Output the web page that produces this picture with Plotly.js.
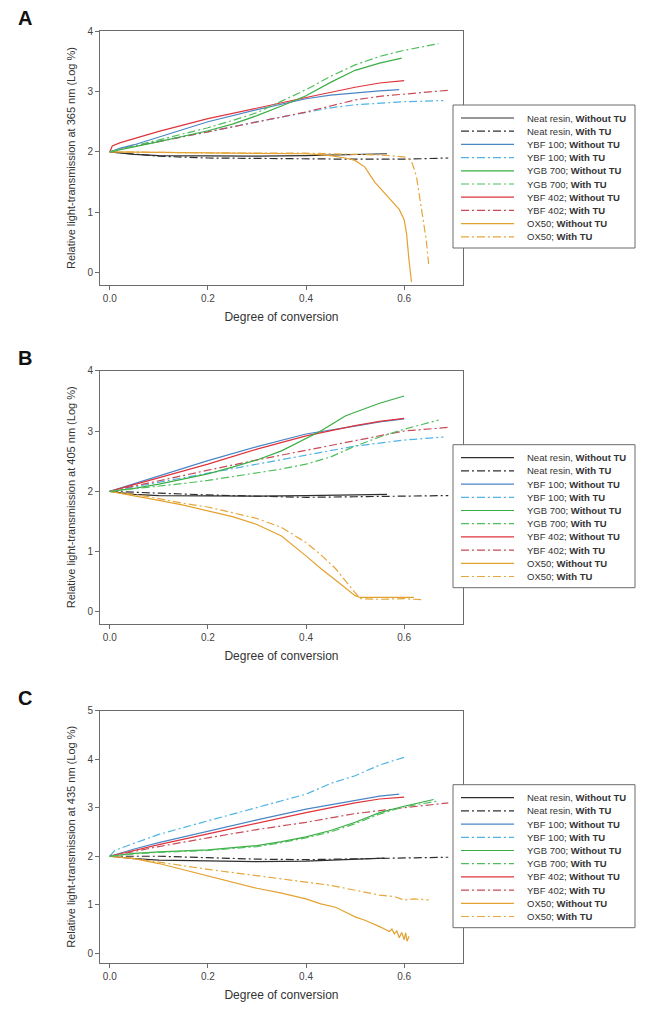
<!DOCTYPE html>
<html>
<head>
<meta charset="utf-8">
<script src="https://cdn.plot.ly/plotly-3.0.1.min.js"></script>
<style>html,body{margin:0;padding:0;background:#fff;}#chart{width:649px;height:1016px;}</style>
</head>
<body>
<div id="chart"></div>
<script>
// ---------- Series labels ----------
const seriesNames = [
  'Neat resin, <b>Without TU</b>', 'Neat resin, <b>With TU</b>',
  'YBF 100; <b>Without TU</b>', 'YBF 100; <b>With TU</b>',
  'YGB 700; <b>Without TU</b>', 'YGB 700; <b>With TU</b>',
  'YBF 402; <b>Without TU</b>', 'YBF 402; <b>With TU</b>',
  'OX50; <b>Without TU</b>', 'OX50; <b>With TU</b>'
];
const panelLabels = ['A', 'B', 'C'];
const yTitles = [
  'Relative light-transmission at 365 nm (Log %)',
  'Relative light-transmission at 405 nm (Log %)',
  'Relative light-transmission at 435 nm (Log %)'
];
const xTitle = 'Degree of conversion';

// ---------- Panel A (365 nm) ----------
const A_neatWo_x = [0,0.05,0.1,0.2,0.3,0.4,0.5,0.565];
const A_neatWo_y = [2,1.96,1.94,1.93,1.93,1.94,1.96,1.97];
const A_neatW_x  = [0,0.05,0.1,0.2,0.3,0.4,0.5,0.6,0.69];
const A_neatW_y  = [2,1.96,1.93,1.9,1.89,1.88,1.88,1.88,1.9];
const A_ybf100Wo_x = [0,0.02,0.05,0.1,0.2,0.3,0.4,0.45,0.5,0.55,0.59];
const A_ybf100Wo_y = [2,2.06,2.12,2.25,2.5,2.7,2.88,2.94,2.98,3.01,3.03];
const A_ybf100W_x  = [0,0.05,0.1,0.2,0.3,0.4,0.45,0.5,0.55,0.6,0.68];
const A_ybf100W_y  = [2,2.1,2.18,2.33,2.5,2.66,2.73,2.78,2.81,2.83,2.85];
const A_ygb700Wo_x = [0,0.05,0.1,0.15,0.2,0.25,0.3,0.35,0.4,0.45,0.5,0.55,0.595];
const A_ygb700Wo_y = [2,2.08,2.17,2.26,2.35,2.46,2.6,2.76,2.93,3.15,3.35,3.47,3.55];
const A_ygb700W_x  = [0,0.05,0.1,0.15,0.2,0.25,0.3,0.35,0.4,0.45,0.5,0.55,0.6,0.67];
const A_ygb700W_y  = [2,2.1,2.2,2.3,2.4,2.52,2.65,2.84,3.03,3.25,3.44,3.58,3.68,3.79];
const A_ybf402Wo_x = [0,0.005,0.02,0.1,0.2,0.3,0.4,0.5,0.55,0.6];
const A_ybf402Wo_y = [2,2.1,2.15,2.34,2.55,2.73,2.9,3.07,3.14,3.18];
const A_ybf402W_x  = [0,0.05,0.1,0.2,0.3,0.4,0.45,0.5,0.55,0.6,0.69];
const A_ybf402W_y  = [2,2.1,2.17,2.33,2.5,2.66,2.76,2.86,2.92,2.96,3.02];
const A_ox50Wo_x = [0,0.1,0.2,0.3,0.4,0.45,0.48,0.5,0.52,0.54,0.56,0.58,0.59,0.6,0.605,0.61,0.615];
const A_ox50Wo_y = [2,1.99,1.98,1.98,1.97,1.94,1.9,1.86,1.75,1.5,1.32,1.15,1.05,0.88,0.65,0.2,-0.15];
const A_ox50W_x  = [0,0.1,0.2,0.3,0.4,0.5,0.55,0.6,0.615,0.625,0.635,0.645,0.65];
const A_ox50W_y  = [2,1.99,1.99,1.98,1.98,1.96,1.95,1.92,1.85,1.6,1.1,0.55,0.15];

// ---------- Panel B (405 nm) ----------
const B_neatWo_x = [0,0.05,0.1,0.2,0.3,0.4,0.5,0.565];
const B_neatWo_y = [2,1.95,1.93,1.92,1.92,1.93,1.94,1.95];
const B_neatW_x  = [0,0.05,0.1,0.2,0.3,0.4,0.5,0.6,0.69];
const B_neatW_y  = [2,1.99,1.97,1.94,1.92,1.9,1.91,1.92,1.93];
const B_ybf100Wo_x = [0,0.1,0.2,0.3,0.4,0.5,0.55,0.6];
const B_ybf100Wo_y = [2,2.26,2.51,2.74,2.95,3.08,3.15,3.2];
const B_ybf100W_x  = [0,0.1,0.2,0.3,0.4,0.45,0.5,0.55,0.6,0.68];
const B_ybf100W_y  = [2,2.15,2.3,2.46,2.6,2.68,2.75,2.8,2.85,2.9];
const B_ygb700Wo_x = [0,0.05,0.1,0.15,0.2,0.25,0.3,0.35,0.4,0.43,0.46,0.48,0.5,0.55,0.6];
const B_ygb700Wo_y = [2,2.05,2.12,2.2,2.29,2.4,2.52,2.67,2.87,3.0,3.15,3.25,3.31,3.46,3.58];
const B_ygb700W_x  = [0,0.05,0.1,0.15,0.2,0.25,0.3,0.35,0.4,0.45,0.5,0.55,0.6,0.67];
const B_ygb700W_y  = [2,2.04,2.08,2.13,2.18,2.24,2.3,2.37,2.45,2.57,2.75,2.9,3.03,3.18];
const B_ybf402Wo_x = [0,0.1,0.2,0.3,0.4,0.5,0.55,0.6];
const B_ybf402Wo_y = [2,2.22,2.45,2.7,2.92,3.09,3.16,3.21];
const B_ybf402W_x  = [0,0.1,0.2,0.3,0.4,0.5,0.55,0.6,0.69];
const B_ybf402W_y  = [2,2.18,2.35,2.52,2.68,2.84,2.93,3.0,3.06];
const B_ox50Wo_x = [0,0.05,0.1,0.15,0.2,0.25,0.3,0.35,0.4,0.43,0.46,0.48,0.5,0.51,0.55,0.6,0.62];
const B_ox50Wo_y = [2,1.93,1.85,1.77,1.68,1.58,1.45,1.26,0.93,0.72,0.53,0.4,0.27,0.24,0.24,0.24,0.24];
const B_ox50W_x  = [0,0.05,0.1,0.15,0.2,0.25,0.3,0.35,0.4,0.43,0.46,0.48,0.5,0.51,0.55,0.6,0.64];
const B_ox50W_y  = [2,1.95,1.88,1.8,1.74,1.65,1.55,1.4,1.15,0.95,0.72,0.52,0.33,0.22,0.21,0.22,0.2];

// ---------- Panel C (435 nm) ----------
const C_neatWo_x = [0,0.05,0.1,0.2,0.3,0.4,0.5,0.56];
const C_neatWo_y = [2,1.95,1.92,1.9,1.89,1.9,1.94,1.96];
const C_neatW_x  = [0,0.1,0.2,0.3,0.4,0.5,0.6,0.69];
const C_neatW_y  = [2,2.0,1.97,1.94,1.93,1.95,1.96,1.98];
const C_ybf100Wo_x = [0,0.05,0.1,0.2,0.3,0.4,0.5,0.55,0.59];
const C_ybf100Wo_y = [2,2.15,2.28,2.52,2.75,2.97,3.16,3.24,3.28];
const C_ybf100W_x  = [0,0.01,0.05,0.1,0.2,0.3,0.4,0.45,0.5,0.55,0.6];
const C_ybf100W_y  = [2,2.12,2.27,2.45,2.73,3.0,3.28,3.5,3.66,3.88,4.04];
const C_ygb700Wo_x = [0,0.05,0.1,0.2,0.3,0.35,0.4,0.45,0.5,0.55,0.6,0.66];
const C_ygb700Wo_y = [2,2.06,2.09,2.13,2.22,2.3,2.4,2.53,2.7,2.9,3.03,3.17];
const C_ygb700W_x  = [0,0.05,0.1,0.2,0.3,0.35,0.4,0.45,0.5,0.55,0.6,0.67];
const C_ygb700W_y  = [2,2.05,2.08,2.12,2.2,2.28,2.38,2.5,2.67,2.87,3.02,3.14];
const C_ybf402Wo_x = [0,0.05,0.1,0.2,0.3,0.4,0.5,0.55,0.6];
const C_ybf402Wo_y = [2,2.12,2.24,2.46,2.68,2.9,3.1,3.18,3.22];
const C_ybf402W_x  = [0,0.05,0.1,0.2,0.3,0.4,0.5,0.6,0.69];
const C_ybf402W_y  = [2,2.1,2.2,2.38,2.55,2.7,2.88,3.0,3.1];
const C_ox50Wo_x = [0,0.05,0.1,0.15,0.2,0.25,0.3,0.35,0.4,0.43,0.46,0.48,0.5,0.52,0.54,0.55,0.56,0.57,0.575,0.58,0.585,0.59,0.595,0.6,0.603,0.606,0.61];
const C_ox50Wo_y = [2,1.95,1.85,1.72,1.6,1.46,1.34,1.24,1.12,1.02,0.95,0.85,0.75,0.68,0.6,0.55,0.5,0.45,0.5,0.4,0.46,0.32,0.43,0.28,0.42,0.25,0.35];
const C_ox50W_x  = [0,0.05,0.1,0.2,0.3,0.4,0.45,0.5,0.55,0.58,0.6,0.62,0.65];
const C_ox50W_y  = [2,1.95,1.88,1.73,1.6,1.47,1.4,1.3,1.2,1.17,1.1,1.12,1.1];

// ---------- Styles ----------
const colors = ['#2e2e2e','#2e2e2e','#4a86c5','#4fb3e3','#3aae44','#4fbf5e','#e0333c','#c84a57','#e3a12f','#e6a63a'];
const dashPattern = '8px,3px,2px,3px';
const FONT = 'Arial, "Liberation Sans", Helvetica, sans-serif';

const panels = [
  [[A_neatWo_x,A_neatWo_y],[A_neatW_x,A_neatW_y],[A_ybf100Wo_x,A_ybf100Wo_y],[A_ybf100W_x,A_ybf100W_y],
   [A_ygb700Wo_x,A_ygb700Wo_y],[A_ygb700W_x,A_ygb700W_y],[A_ybf402Wo_x,A_ybf402Wo_y],[A_ybf402W_x,A_ybf402W_y],
   [A_ox50Wo_x,A_ox50Wo_y],[A_ox50W_x,A_ox50W_y]],
  [[B_neatWo_x,B_neatWo_y],[B_neatW_x,B_neatW_y],[B_ybf100Wo_x,B_ybf100Wo_y],[B_ybf100W_x,B_ybf100W_y],
   [B_ygb700Wo_x,B_ygb700Wo_y],[B_ygb700W_x,B_ygb700W_y],[B_ybf402Wo_x,B_ybf402Wo_y],[B_ybf402W_x,B_ybf402W_y],
   [B_ox50Wo_x,B_ox50Wo_y],[B_ox50W_x,B_ox50W_y]],
  [[C_neatWo_x,C_neatWo_y],[C_neatW_x,C_neatW_y],[C_ybf100Wo_x,C_ybf100Wo_y],[C_ybf100W_x,C_ybf100W_y],
   [C_ygb700Wo_x,C_ygb700Wo_y],[C_ygb700W_x,C_ygb700W_y],[C_ybf402Wo_x,C_ybf402Wo_y],[C_ybf402W_x,C_ybf402W_y],
   [C_ox50Wo_x,C_ox50Wo_y],[C_ox50W_x,C_ox50W_y]]
];

// draw order: neat, ox50, ybf100, ybf402, ygb700
const drawOrder = [0,1,8,9,2,3,6,7,4,5];

const W = 649, H = 1016;
const plotLeft = 100, plotRight = 463;
const plotTops = [31, 370.7, 710.7];
const plotBottoms = [285, 624, 963];
const yRanges = [[-0.2,4],[-0.2,4],[-0.2,5]];

const traces = [];
panels.forEach((p, pi) => {
  const sfx = pi === 0 ? '' : String(pi + 1);
  drawOrder.forEach(si => {
    traces.push({
      type: 'scatter', mode: 'lines',
      x: p[si][0], y: p[si][1],
      xaxis: 'x' + sfx, yaxis: 'y' + sfx,
      name: seriesNames[si].replace(/<\/?b>/g, ''),
      line: {color: colors[si], width: 1.2, dash: si % 2 === 1 ? dashPattern : 'solid'},
      hoverinfo: 'skip', showlegend: false
    });
  });
});

const layout = {
  width: W, height: H,
  margin: {l: 0, r: 0, t: 0, b: 0},
  paper_bgcolor: '#fff', plot_bgcolor: '#fff',
  font: {family: FONT, color: '#333', size: 10},
  showlegend: false,
  shapes: [], annotations: []
};

panels.forEach((p, pi) => {
  const sfx = pi === 0 ? '' : String(pi + 1);
  const yd = [1 - plotBottoms[pi] / H, 1 - plotTops[pi] / H];
  layout['xaxis' + sfx] = {
    domain: [plotLeft / W, plotRight / W], anchor: 'y' + sfx,
    range: [-0.02, 0.72], tick0: 0, dtick: 0.2, tickformat: '.1f',
    showgrid: false, zeroline: false, showline: true, mirror: true,
    linecolor: '#6b6b6b', linewidth: 1, ticks: 'outside', ticklen: 4, tickcolor: '#6b6b6b',
    tickfont: {size: 10, color: '#444', family: FONT},
    title: {text: xTitle, font: {size: 12, color: '#333', family: FONT}, standoff: 9}
  };
  layout['yaxis' + sfx] = {
    domain: yd, anchor: 'x' + sfx,
    range: yRanges[pi], tick0: 0, dtick: 1,
    showgrid: false, zeroline: false, showline: true, mirror: true,
    linecolor: '#6b6b6b', linewidth: 1, ticks: 'outside', ticklen: 4, tickcolor: '#6b6b6b',
    tickfont: {size: 10, color: '#444', family: FONT},
    title: {text: yTitles[pi], font: {size: 11, color: '#333', family: FONT}, standoff: 9}
  };
  // panel letter
  layout.annotations.push({
    xref: 'paper', yref: 'paper', x: 25 / W, y: 1 - (plotTops[pi] - 13) / H,
    xanchor: 'center', yanchor: 'middle', showarrow: false,
    text: '<b>' + panelLabels[pi] + '</b>', font: {size: 20, color: '#111', family: FONT}
  });
  // manual legend box
  const bTop = plotTops[pi] + 74, bBot = bTop + 143;
  const bL = 453, bR = 635;
  layout.shapes.push({
    type: 'rect', xref: 'paper', yref: 'paper', layer: 'above',
    x0: bL / W, x1: bR / W, y0: 1 - bBot / H, y1: 1 - bTop / H,
    fillcolor: '#fff', line: {color: '#6b6b6b', width: 1}
  });
  seriesNames.forEach((nm, si) => {
    const ry = bTop + 13 + si * 13.2;
    layout.shapes.push({
      type: 'line', xref: 'paper', yref: 'paper', layer: 'above',
      x0: 461 / W, x1: 514 / W, y0: 1 - ry / H, y1: 1 - ry / H,
      line: {color: colors[si], width: 1.2, dash: si % 2 === 1 ? dashPattern : 'solid'}
    });
    layout.annotations.push({
      xref: 'paper', yref: 'paper', x: 525 / W, y: 1 - ry / H,
      xanchor: 'left', yanchor: 'middle', showarrow: false,
      text: nm, font: {size: 9.5, color: '#333', family: FONT}
    });
  });
});

Plotly.newPlot('chart', traces, layout, {staticPlot: true, displayModeBar: false});
</script>
</body>
</html>
